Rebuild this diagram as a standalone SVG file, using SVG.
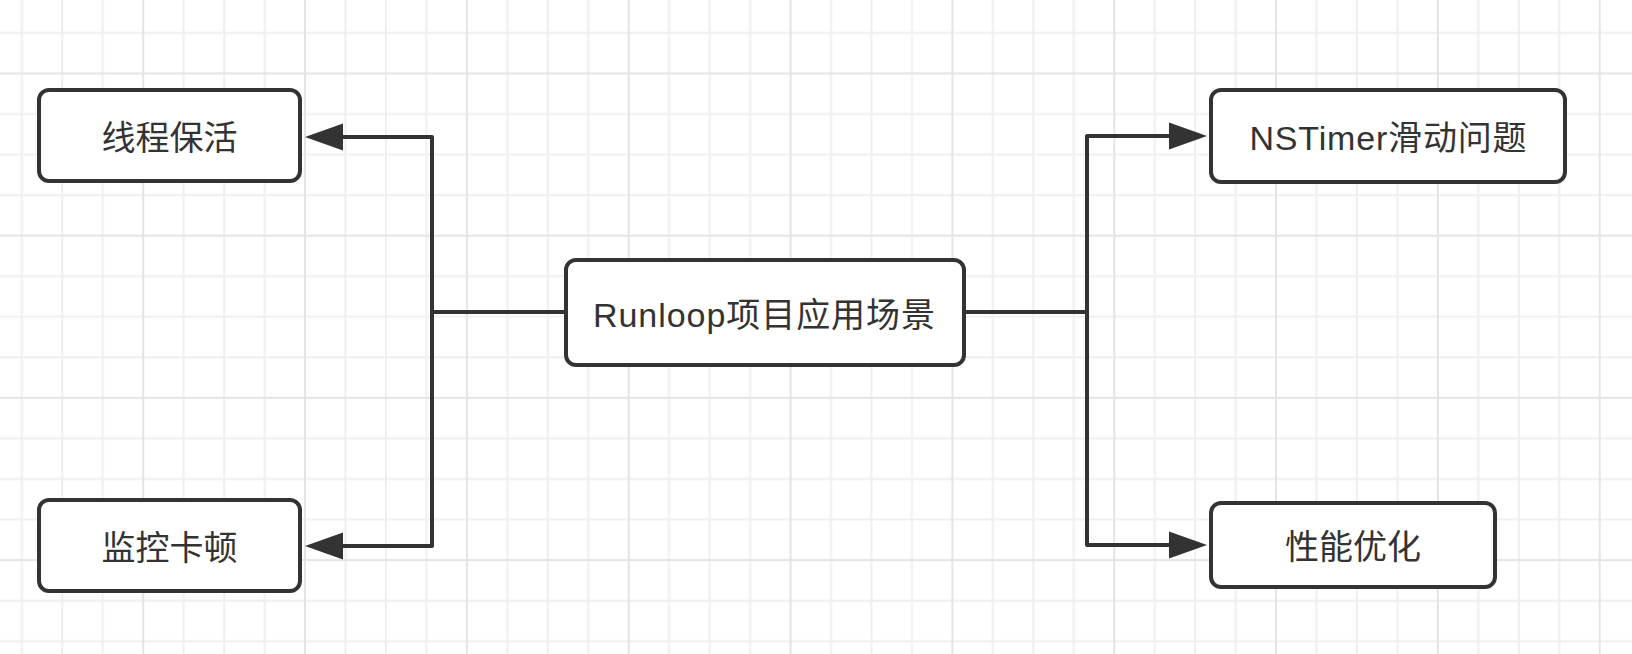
<svg xmlns="http://www.w3.org/2000/svg" width="1632" height="654" viewBox="0 0 1632 654">
  <style>
    .box { fill: #ffffff; stroke: #333333; stroke-width: 4; }
    .lbl { font-family: "Liberation Sans", "Noto Sans CJK SC", sans-serif; font-size: 34px; fill: #333333; text-anchor: middle; }
    .conn { fill: none; stroke: #333333; stroke-width: 4; stroke-linejoin: round; stroke-linecap: butt; }
    .gmin { stroke: #efefef; stroke-width: 2; }
    .gmaj { stroke: #e4e4e4; stroke-width: 2; }
  </style>
  <defs>
    <pattern id="grid" patternUnits="userSpaceOnUse" x="142.2" y="72.5" width="161.84" height="162.2">
      <line class="gmin" x1="41.46" y1="0" x2="41.46" y2="162.2"/>
      <line class="gmin" x1="81.92" y1="0" x2="81.92" y2="162.2"/>
      <line class="gmin" x1="122.38" y1="0" x2="122.38" y2="162.2"/>
      <line class="gmin" x1="0" y1="41.55" x2="161.84" y2="41.55"/>
      <line class="gmin" x1="0" y1="82.1" x2="161.84" y2="82.1"/>
      <line class="gmin" x1="0" y1="122.65" x2="161.84" y2="122.65"/>
      <line class="gmaj" x1="1" y1="0" x2="1" y2="162.2"/>
      <line class="gmaj" x1="0" y1="1" x2="161.84" y2="1"/>
    </pattern>
    <marker id="arr" markerUnits="userSpaceOnUse" markerWidth="40" markerHeight="30" viewBox="0 0 40 30" refX="4" refY="15" orient="auto">
      <path d="M0,1.5 L38,15 L0,28.5 z" fill="#333333"/>
    </marker>
  </defs>
  <rect x="0" y="0" width="1632" height="654" fill="#ffffff"/>
  <rect x="0" y="0" width="1632" height="654" fill="url(#grid)"/>

  <g id="connectors">
    <path class="conn" d="M566 312 H432"/>
    <path class="conn" d="M432 314 V137 H339" marker-end="url(#arr)"/>
    <path class="conn" d="M432 310 V546 H339" marker-end="url(#arr)"/>
    <path class="conn" d="M964 312 H1087"/>
    <path class="conn" d="M1087 314 V136 H1173" marker-end="url(#arr)"/>
    <path class="conn" d="M1087 310 V545 H1173" marker-end="url(#arr)"/>
  </g>

  <g id="node-center">
    <rect class="box" x="566" y="260" width="398" height="105" rx="10"/>
    <text class="lbl" x="764" y="327" textLength="342" lengthAdjust="spacing">Runloop项目应用场景</text>
  </g>
  <g id="node-thread-keepalive">
    <rect class="box" x="39" y="90" width="261" height="91" rx="10"/>
    <text class="lbl" x="169.5" y="150">线程保活</text>
  </g>
  <g id="node-monitor-lag">
    <rect class="box" x="39" y="500" width="261" height="91" rx="10"/>
    <text class="lbl" x="169.5" y="560">监控卡顿</text>
  </g>
  <g id="node-nstimer">
    <rect class="box" x="1211" y="90" width="354" height="92" rx="10"/>
    <text class="lbl" x="1388" y="150" textLength="277" lengthAdjust="spacing">NSTimer滑动问题</text>
  </g>
  <g id="node-performance">
    <rect class="box" x="1211" y="503" width="284" height="84" rx="10"/>
    <text class="lbl" x="1353" y="558.5">性能优化</text>
  </g>
</svg>
